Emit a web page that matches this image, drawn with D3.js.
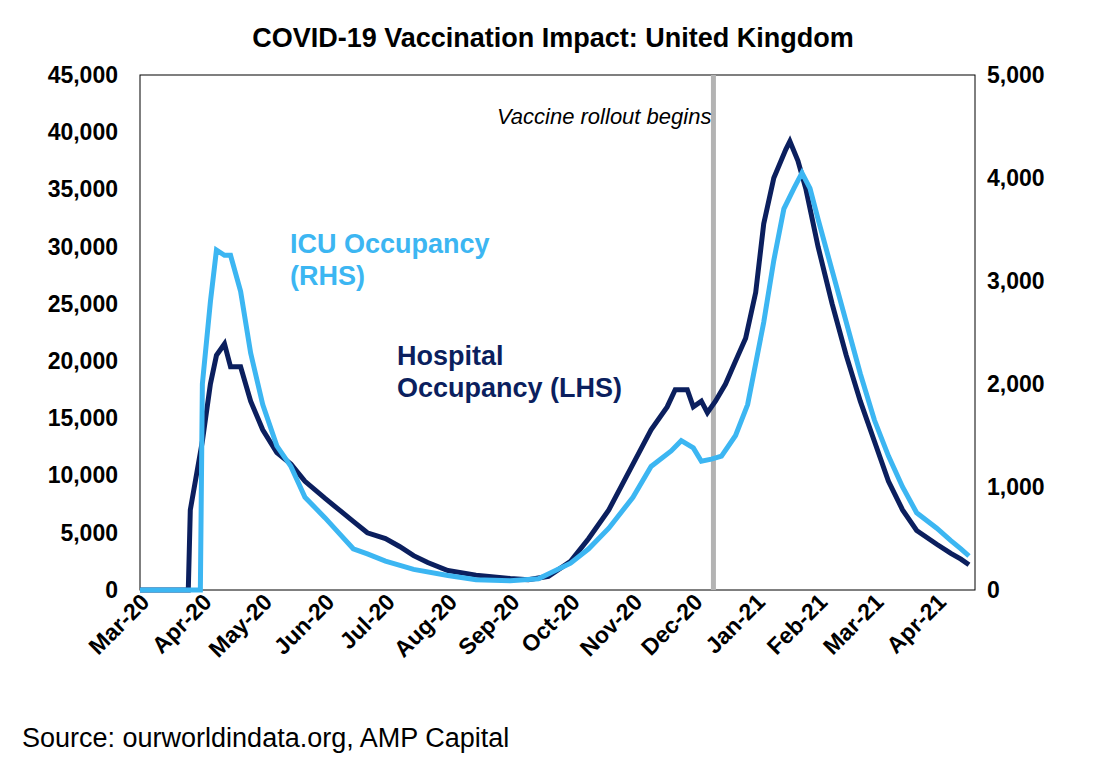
<!DOCTYPE html>
<html><head><meta charset="utf-8">
<script src="https://cdn.jsdelivr.net/npm/d3@7"></script>
<style>
body{margin:0;background:#fff;font-family:"Liberation Sans",Arial,sans-serif}
.axis text{font-size:23px;font-weight:bold;fill:#000}
</style></head>
<body><svg class="chart"></svg>
<script>
var W = 1108, H = 778;
var margin = {top: 75, right: 133, bottom: 188, left: 140},
    width = W - margin.left - margin.right,
    height = H - margin.top - margin.bottom;

// data
var hospDates = ["2020-03-01","2020-03-25","2020-03-26","2020-04-01","2020-04-05","2020-04-08","2020-04-12","2020-04-15","2020-04-20","2020-04-25","2020-05-01","2020-05-08","2020-05-15","2020-05-22","2020-06-01","2020-06-08","2020-06-15","2020-06-22","2020-07-01","2020-07-08","2020-07-15","2020-07-22","2020-08-01","2020-08-15","2020-09-01","2020-09-10","2020-09-20","2020-10-01","2020-10-10","2020-10-20","2020-11-01","2020-11-10","2020-11-18","2020-11-22","2020-11-28","2020-12-01","2020-12-05","2020-12-08","2020-12-12","2020-12-17","2020-12-22","2020-12-27","2021-01-01","2021-01-05","2021-01-10","2021-01-16","2021-01-18","2021-01-22","2021-01-26","2021-02-01","2021-02-08","2021-02-15","2021-02-22","2021-03-01","2021-03-08","2021-03-15","2021-03-22","2021-04-01","2021-04-08","2021-04-13","2021-04-17"];
var hospValues = [0,0,7000,13000,18000,20500,21500,19500,19500,16500,14000,12000,11000,9500,8000,7000,6000,5000,4500,3800,3000,2400,1700,1300,1000,900,1200,2500,4500,7000,11000,14000,16000,17500,17500,16000,16500,15500,16500,18000,20000,22000,26000,32000,36000,38500,39200,37500,35000,30000,25000,20500,16500,13000,9500,7000,5200,4000,3200,2700,2200];

var icuDates = ["2020-03-01","2020-03-31","2020-04-01","2020-04-05","2020-04-08","2020-04-12","2020-04-15","2020-04-20","2020-04-25","2020-05-01","2020-05-08","2020-05-15","2020-05-22","2020-06-01","2020-06-08","2020-06-15","2020-06-22","2020-07-01","2020-07-15","2020-08-01","2020-08-15","2020-09-01","2020-09-15","2020-10-01","2020-10-10","2020-10-20","2020-11-01","2020-11-10","2020-11-20","2020-11-25","2020-12-01","2020-12-05","2020-12-10","2020-12-15","2020-12-22","2020-12-28","2021-01-01","2021-01-05","2021-01-10","2021-01-15","2021-01-20","2021-01-24","2021-01-28","2021-02-01","2021-02-08","2021-02-15","2021-02-22","2021-03-01","2021-03-08","2021-03-15","2021-03-22","2021-04-01","2021-04-08","2021-04-13","2021-04-17"];
var icuValues = [0,0,2000,2800,3300,3250,3250,2900,2300,1800,1400,1200,900,700,550,400,350,280,200,140,100,90,110,260,400,600,900,1200,1350,1450,1380,1250,1270,1300,1500,1800,2200,2600,3200,3700,3900,4050,3900,3600,3100,2600,2100,1650,1300,1000,750,600,480,400,330];

var monthTicks = ["2020-03-01","2020-04-01","2020-05-01","2020-06-01","2020-07-01","2020-08-01","2020-09-01","2020-10-01","2020-11-01","2020-12-01","2021-01-01","2021-02-01","2021-03-01","2021-04-01"];
var leftTicks = [0,5000,10000,15000,20000,25000,30000,35000,40000,45000];
var rightTicks = [0,1000,2000,3000,4000,5000];
var vaccineDate = "2020-12-11";

var parse = d3.timeParse("%Y-%m-%d");
var fmtM = d3.timeFormat("%b-%y");
var fmtN = d3.format(",");

var root = d3.select(".chart").attr("width", W).attr("height", H);
root.append("text").attr("x", 553).attr("y", 47).attr("text-anchor", "middle")
    .style("font-size", "27px").style("font-weight", "bold").text("COVID-19 Vaccination Impact: United Kingdom");
root.append("text").attr("x", 22).attr("y", 747)
    .style("font-size", "27px").text("Source: ourworldindata.org, AMP Capital");

var svg = root.append("g").attr("transform", "translate(" + margin.left + "," + margin.top + ")");

var x = d3.scaleTime().domain([parse("2020-03-01"), parse("2021-04-20")]).range([0, width]);
var yL = d3.scaleLinear().domain([0, 45000]).range([height, 0]);
var yR = d3.scaleLinear().domain([0, 5000]).range([height, 0]);

svg.append("rect").attr("width", width).attr("height", height)
    .attr("fill", "none").attr("stroke", "#000").attr("stroke-width", 1);

svg.append("g").attr("class", "axis").attr("transform", "translate(0," + height + ")")
    .call(d3.axisBottom(x).tickValues(monthTicks.map(parse)).tickFormat(fmtM).tickSize(0))
    .call(g => g.select(".domain").remove())
  .selectAll("text")
    .attr("text-anchor", "end").attr("dx", "-0.1em").attr("dy", "0.6em")
    .attr("transform", "rotate(-45)");

svg.append("g").attr("class", "axis")
    .call(d3.axisLeft(yL).tickValues(leftTicks).tickFormat(fmtN).tickSize(0).tickPadding(22))
    .call(g => g.select(".domain").remove());
svg.append("g").attr("class", "axis").attr("transform", "translate(" + width + ",0)")
    .call(d3.axisRight(yR).tickValues(rightTicks).tickFormat(fmtN).tickSize(0).tickPadding(12))
    .call(g => g.select(".domain").remove());

// vaccine line
var vx = x(parse(vaccineDate));
svg.append("line").attr("x1", vx).attr("x2", vx).attr("y1", 0).attr("y2", height)
    .attr("stroke", "#b3b3b3").attr("stroke-width", 5);
svg.append("text").attr("x", vx - 2).attr("y", 49).attr("text-anchor", "end")
    .style("font-size", "22px").style("font-style", "italic").text("Vaccine rollout begins");

var icu = icuDates.map((d, i) => ({date: parse(d), v: icuValues[i]}));
var hosp = hospDates.map((d, i) => ({date: parse(d), v: hospValues[i]}));

svg.append("path").datum(hosp).attr("fill", "none").attr("stroke", "#0b1f5e").attr("stroke-width", 5)
    .attr("d", d3.line().x(d => x(d.date)).y(d => yL(d.v)));
svg.append("path").datum(icu).attr("fill", "none").attr("stroke", "#3cb6f2").attr("stroke-width", 5)
    .attr("d", d3.line().x(d => x(d.date)).y(d => yR(d.v)));

// labels
var lab1 = svg.append("text").style("font-size", "27px").style("font-weight", "bold").attr("fill", "#3cb6f2");
lab1.append("tspan").attr("x", 150).attr("y", 178).text("ICU Occupancy");
lab1.append("tspan").attr("x", 150).attr("y", 210).text("(RHS)");
var lab2 = svg.append("text").style("font-size", "27px").style("font-weight", "bold").attr("fill", "#0b1f5e");
lab2.append("tspan").attr("x", 257).attr("y", 290).text("Hospital");
lab2.append("tspan").attr("x", 257).attr("y", 322).text("Occupancy (LHS)");
</script>
</body></html>
